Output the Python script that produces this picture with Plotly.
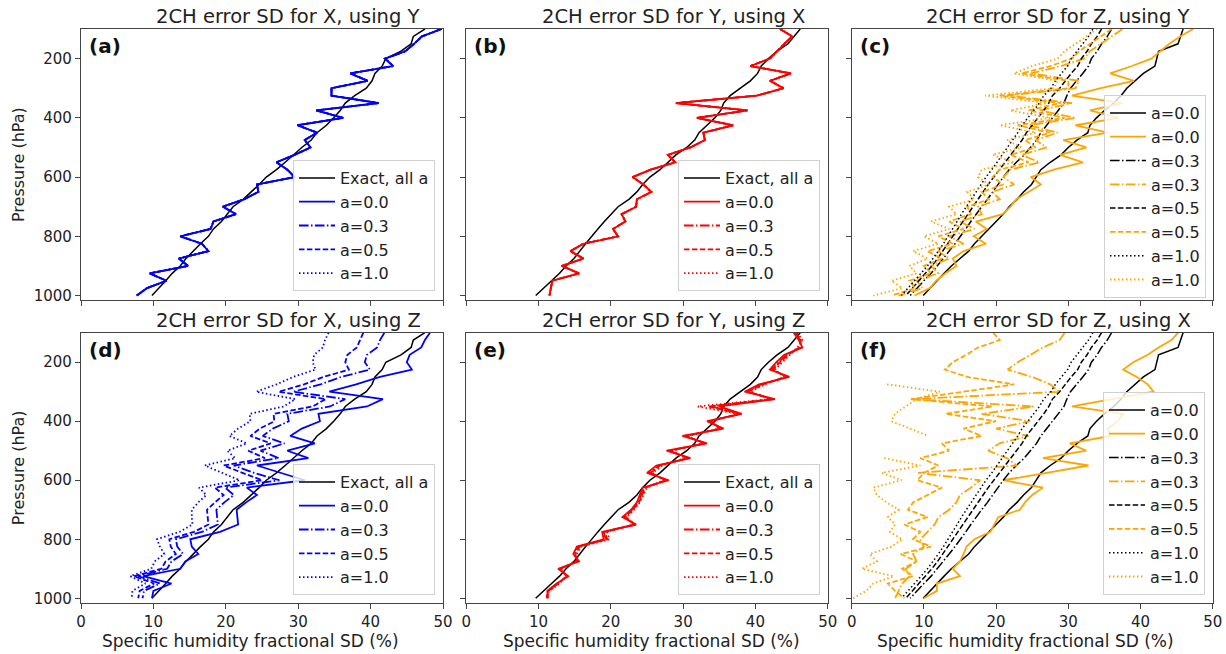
import plotly.graph_objects as go

# ---------------- data ----------------
P = list(range(100, 1001, 25))  # pressure levels, hPa

# (a) 2CH error SD for X, using Y
exact_X = [47.5, 45.9, 45.6, 44.2, 42.1, 41.6, 40.6, 40.2, 39.4, 37.8, 36.5, 35.8, 34.9, 33.9, 32.6, 31.8, 30.5, 29.4, 28.2,
           27.0, 25.6, 24.6, 23.5, 22.4, 21.0, 20.2, 19.4, 18.3, 17.6, 16.5, 15.5, 14.5, 13.7, 12.6, 11.7, 10.7, 9.8]
a_a00 = [49.8, 47.1, 46.0, 44.8, 42.0, 43.1, 37.2, 39.6, 34.6, 34.6, 41.1, 32.5, 36.2, 29.9, 32.6, 30.9, 31.7, 29.5, 27.0,
         28.5, 29.5, 24.3, 24.5, 22.5, 19.6, 21.4, 18.3, 17.9, 13.7, 16.7, 17.6, 13.5, 14.8, 9.5, 11.8, 9.1, 7.7]
# the a=0.3/0.5/1.0 curves lie exactly on the a=0.0 curve in the reference
a_a03 = a_a00
a_a05 = a_a00
a_a10 = a_a00

# (b) 2CH error SD for Y, using X
exact_Y = [46.2, 45.3, 44.5, 43.0, 41.8, 40.8, 40.3, 39.3, 37.9, 36.5, 35.6, 35.2, 34.4, 33.3, 32.2, 31.6, 30.5, 29.0, 27.9,
           26.8, 25.4, 24.4, 23.6, 22.5, 21.0, 20.0, 19.1, 18.2, 17.3, 16.5, 15.7, 14.9, 13.8, 12.9, 11.8, 10.7, 9.6]
b_a00 = [43.4, 45.1, 44.0, 43.0, 42.0, 39.3, 44.9, 42.0, 43.9, 40.2, 29.0, 38.9, 31.9, 36.9, 32.8, 33.0, 31.0, 27.9, 28.9,
         25.5, 23.0, 24.5, 25.6, 23.6, 23.5, 21.5, 22.0, 20.3, 21.0, 16.2, 14.4, 16.2, 13.2, 15.6, 11.9, 11.7, 11.5]
b_a03 = b_a00
b_a05 = b_a00
b_a10 = b_a00

# (c) / (f) exact curves for Z (black), one per a
exact_Z_a00 = [45.9, 45.5, 45.2, 42.5, 42.3, 42.0, 40.4, 39.2, 38.1, 37.3, 36.3, 35.0, 33.9, 33.0, 32.7, 31.2, 30.0, 29.0, 27.5,
               26.2, 25.6, 24.9, 23.8, 22.9, 21.8, 21.0, 20.0, 19.0, 17.9, 17.0, 16.2, 15.0, 13.8, 12.8, 11.8, 10.8, 9.9]
exact_Z_a03 = [36.0, 35.4, 34.6, 34.0, 33.2, 32.8, 32.0, 31.2, 30.3, 29.8, 29.4, 28.6, 27.8, 27.0, 26.2, 25.6, 24.8, 23.9, 22.8,
               21.8, 21.0, 20.3, 19.6, 18.8, 18.0, 17.2, 16.5, 15.8, 15.1, 14.3, 13.5, 12.7, 11.9, 11.0, 10.0, 9.1, 8.1]
exact_Z_a05 = [34.6, 34.0, 33.2, 32.6, 31.8, 31.3, 30.4, 29.6, 28.8, 27.8, 27.3, 26.6, 25.8, 25.0, 24.2, 23.6, 22.8, 22.0, 21.2,
               20.4, 19.6, 18.9, 18.2, 17.5, 16.8, 16.1, 15.4, 14.8, 14.1, 13.4, 12.7, 11.9, 11.1, 10.2, 9.3, 8.4, 7.5]
exact_Z_a10 = [33.4, 32.8, 32.0, 31.2, 30.4, 29.9, 29.0, 28.2, 27.6, 26.6, 26.0, 25.2, 24.4, 23.6, 23.0, 22.3, 21.5, 20.8, 20.2,
               19.4, 18.6, 17.9, 17.2, 16.6, 15.9, 15.2, 14.6, 14.0, 13.4, 12.7, 12.0, 11.3, 10.5, 9.6, 8.7, 7.8, 6.9]

# (c) 2CH error SD for Z, using Y (orange)
c_a00 = [47.3, 45.5, 44.0, 42.7, 41.5, 38.8, 35.8, 39.1, 34.5, 30.5, 37.5, 33.0, 37.0, 31.0, 35.5, 29.3, 32.5, 28.9, 32.0,
         28.0, 24.8, 26.2, 24.5, 22.8, 22.0, 20.9, 17.2, 18.7, 16.9, 18.6, 15.5, 14.0, 14.5, 13.0, 11.7, 10.8, 8.7]
c_a03 = [37.5, 36.0, 34.5, 33.0, 32.2, 29.0, 24.8, 31.5, 31.0, 21.6, 30.5, 26.0, 31.0, 24.5, 28.5, 25.5, 27.0, 23.5, 26.0,
         22.0, 21.0, 22.5, 19.5, 20.5, 17.5, 18.0, 15.0, 17.0, 13.5, 15.5, 12.0, 13.5, 11.0, 12.0, 9.0, 9.8, 6.5]
c_a05 = [36.0, 34.5, 33.0, 31.5, 30.5, 27.5, 23.5, 30.0, 30.0, 20.5, 29.0, 24.5, 29.5, 23.0, 27.5, 24.0, 25.5, 22.0, 24.5,
         20.5, 19.5, 21.0, 18.0, 19.0, 16.0, 16.5, 13.5, 15.5, 12.0, 14.0, 10.5, 12.5, 10.0, 11.0, 8.0, 8.8, 5.5]
c_a10 = [34.0, 32.5, 31.0, 29.5, 28.5, 25.0, 22.5, 28.5, 28.0, 18.5, 27.0, 22.0, 27.5, 20.5, 25.5, 21.5, 23.5, 19.5, 22.5,
         18.0, 17.5, 19.0, 16.0, 17.0, 13.5, 14.5, 11.0, 13.5, 10.0, 12.0, 8.5, 10.5, 8.0, 9.0, 5.5, 7.0, 3.0]

# (d) 2CH error SD for X, using Z
d_a00 = [48.2, 47.5, 47.0, 45.4, 45.0, 45.7, 41.3, 38.0, 34.3, 41.7, 39.5, 32.8, 33.0, 30.5, 28.9, 32.3, 28.5, 31.4, 24.3,
         27.5, 30.9, 22.9, 24.3, 22.8, 21.5, 21.6, 21.7, 19.2, 15.1, 15.3, 16.2, 14.4, 13.7, 8.6, 12.5, 10.0, 9.8]
d_a03 = [41.9, 41.3, 40.9, 39.5, 39.2, 39.9, 35.9, 33.1, 29.3, 36.5, 34.4, 28.5, 28.7, 26.5, 25.1, 28.1, 24.8, 27.3, 21.1,
         23.9, 27.4, 19.9, 21.1, 19.8, 18.7, 18.8, 18.9, 16.7, 13.1, 13.3, 14.1, 12.5, 11.9, 7.9, 10.9, 8.7, 8.5]
d_a05 = [39.0, 38.5, 38.1, 36.8, 36.5, 37.0, 33.5, 30.8, 27.3, 33.8, 32.0, 26.6, 26.7, 24.7, 23.4, 26.2, 23.1, 25.4, 19.7,
         22.3, 25.0, 18.5, 19.7, 18.5, 17.4, 17.5, 17.6, 15.6, 12.2, 12.4, 13.1, 11.7, 11.1, 7.3, 10.1, 8.1, 7.9]
d_a10 = [34.2, 33.7, 33.4, 32.2, 32.0, 32.4, 29.3, 27.0, 24.2, 29.6, 28.0, 23.3, 23.4, 21.7, 20.5, 22.9, 20.2, 21.3, 17.1,
         19.5, 21.9, 16.3, 17.3, 16.2, 15.3, 15.3, 15.4, 13.6, 10.5, 10.9, 11.5, 10.2, 9.7, 6.8, 8.9, 7.1, 7.0]

# (e) 2CH error SD for Y, using Z
e_a00 = [45.3, 46.0, 46.5, 44.0, 42.9, 42.0, 44.7, 40.5, 38.5, 42.7, 35.0, 38.1, 33.3, 35.6, 29.9, 33.3, 27.7, 31.0, 26.3,
         25.0, 28.0, 24.4, 24.0, 23.6, 22.8, 21.6, 23.5, 18.8, 19.0, 15.3, 14.8, 15.6, 12.7, 14.1, 12.5, 11.2, 11.3]
e_a03 = [45.5, 46.2, 46.3, 44.3, 43.2, 42.2, 44.5, 40.8, 38.8, 42.5, 34.0, 38.0, 33.5, 35.4, 30.2, 33.1, 28.0, 30.8, 26.6,
         25.3, 27.8, 24.6, 24.2, 23.8, 22.9, 21.8, 23.4, 19.0, 19.3, 15.5, 15.0, 15.4, 12.9, 14.0, 12.6, 11.3, 11.2]
e_a05 = [45.6, 46.3, 46.1, 44.5, 43.4, 42.4, 44.3, 41.0, 39.0, 42.3, 33.5, 37.9, 33.7, 35.2, 30.4, 33.0, 28.2, 30.6, 26.8,
         25.5, 27.6, 24.8, 24.3, 23.9, 23.0, 22.0, 23.3, 19.2, 19.5, 15.7, 15.1, 15.3, 13.0, 13.9, 12.7, 11.4, 11.1]
e_a10 = [45.8, 46.5, 45.8, 44.8, 43.7, 42.7, 44.0, 41.3, 39.3, 42.0, 32.0, 37.6, 34.0, 34.9, 30.7, 32.7, 28.5, 30.3, 27.1,
         25.8, 27.3, 25.0, 24.5, 24.0, 23.2, 22.2, 23.1, 19.5, 19.8, 15.9, 15.3, 15.1, 13.2, 13.8, 12.9, 11.5, 11.0]

# (f) 2CH error SD for Z, using X (orange)
f_a00 = [45.2, 44.3, 42.5, 41.0, 39.0, 37.6, 39.5, 41.0, 41.8, 36.0, 30.5, 37.6, 36.8, 35.5, 35.8, 30.2, 32.5, 26.5, 32.8,
         27.0, 21.0, 26.5, 25.0, 24.0, 23.3, 20.3, 19.8, 19.2, 17.0, 15.9, 15.5, 15.0, 14.0, 15.0, 11.8, 11.8, 10.0]
f_a03 = [29.5, 28.8, 26.5, 24.8, 23.0, 21.6, 25.0, 27.5, 28.8, 8.5, 25.2, 18.0, 24.7, 20.0, 24.5, 20.5, 18.9, 21.5, 22.9,
         9.2, 17.8, 16.5, 15.0, 14.5, 13.5, 12.0, 11.5, 10.5, 9.5, 10.0, 8.5, 9.0, 7.5, 8.0, 7.0, 6.5, 6.0]
f_a05 = [19.6, 20.5, 17.5, 15.9, 14.0, 12.9, 16.0, 22.5, 15.5, 8.2, 19.5, 13.0, 20.0, 15.5, 18.0, 12.5, 13.5, 9.5, 12.0,
         10.0, 9.1, 12.5, 10.5, 8.5, 7.8, 10.5, 7.3, 9.5, 8.5, 11.0, 6.8, 9.0, 7.0, 8.5, 5.0, 6.0, 7.3]
f_a10 = [None, None, None, None, None, None, None, 4.9, 12.2, 9.0, 7.5, 6.0, 5.5, 8.0, 10.6, None, None, 4.5, 9.5,
         4.2, 6.9, 3.0, 3.5, 4.8, 6.5, 5.0, 6.0, 5.3, 7.0, 5.5, 2.5, 3.5, 1.4, 5.8, 3.0, 2.0, 0.2]

titles = ["2CH error SD for X, using Y", "2CH error SD for Y, using X", "2CH error SD for Z, using Y",
          "2CH error SD for X, using Z", "2CH error SD for Y, using Z", "2CH error SD for Z, using X"]
letters = ["(a)", "(b)", "(c)", "(d)", "(e)", "(f)"]
a_labels = ["a=0.0", "a=0.3", "a=0.5", "a=1.0"]
x_ticks = [0, 10, 20, 30, 40, 50]
y_ticks = [200, 400, 600, 800, 1000]

# ---------------- styling ----------------
FONT = "DejaVu Sans"
BLUE, RED, ORANGE, BLACK = "#0000ff", "#ff0000", "#ffa500", "#000000"
DASH = {"a=0.0": "solid", "a=0.3": "9.6px,2.4px,1.5px,2.4px", "a=0.5": "5.5px,2.4px", "a=1.0": "1.5px,2.5px"}

W, H = 1226, 654
cols_px = [(81, 443), (466.3, 827.7), (851.7, 1212.7)]   # pixel positions of panels
rows_px = [(29, 300), (332.7, 602.7)]
legend_br = [(435, 291), (820, 291), (1206, 298), (435, 595), (820, 595), (1205, 595)]
xlabel_cx = [250, 652, 1025]


def fx(px):
    return px / W


def fy(py):
    return 1 - py / H


fig = go.Figure()


def add(panel, y_vals, name, color, dash, width=1.8):
    n = "" if panel == 1 else str(panel)
    fig.add_trace(go.Scatter(
        x=y_vals, y=P, mode="lines", name=name,
        line=dict(color=color, dash=dash, width=width),
        xaxis=f"x{n}", yaxis=f"y{n}", legend=f"legend{n}",
        showlegend=True, connectgaps=False, hoverinfo="skip"))


simple = [
    (1, exact_X, [a_a00, a_a03, a_a05, a_a10], BLUE),
    (2, exact_Y, [b_a00, b_a03, b_a05, b_a10], RED),
    (4, exact_X, [d_a00, d_a03, d_a05, d_a10], BLUE),
    (5, exact_Y, [e_a00, e_a03, e_a05, e_a10], RED),
]
for panel, ex, series, col in simple:
    add(panel, ex, "Exact, all a", BLACK, "solid", 1.5)
    for lab, s in zip(a_labels, series):
        add(panel, s, lab, col, DASH[lab])

exact_Z = [exact_Z_a00, exact_Z_a03, exact_Z_a05, exact_Z_a10]
for panel, series in [(3, [c_a00, c_a03, c_a05, c_a10]), (6, [f_a00, f_a03, f_a05, f_a10])]:
    for lab, ex, s in zip(a_labels, exact_Z, series):
        add(panel, ex, lab, BLACK, DASH[lab], 1.5)
        add(panel, s, lab, ORANGE, DASH[lab])

layout = dict(
    width=W, height=H, margin=dict(l=0, r=0, t=0, b=0, autoexpand=False),
    paper_bgcolor="white", plot_bgcolor="white",
    font=dict(family=FONT, size=15, color="#222222"),
    hovermode=False,
)
annotations = []
for i in range(6):
    r, c = divmod(i, 3)
    n = "" if i == 0 else str(i + 1)
    x0, x1 = cols_px[c]
    y0, y1 = rows_px[r]
    axis_common = dict(showline=True, mirror=True, linecolor="#444444", linewidth=1.2,
                       ticks="outside", ticklen=5, tickwidth=1.2, tickcolor="#444444",
                       showgrid=False, zeroline=False, tickfont=dict(size=15, family=FONT, color="#222222"))
    layout[f"xaxis{n}"] = dict(domain=[fx(x0), fx(x1)], range=[0, 50], anchor=f"y{n}",
                               tickvals=x_ticks, showticklabels=(r == 1), **axis_common)
    layout[f"yaxis{n}"] = dict(domain=[fy(y1), fy(y0)], range=[1015, 100], anchor=f"x{n}",
                               tickvals=y_ticks, showticklabels=(c == 0), **axis_common)
    lx, ly = legend_br[i]
    layout[f"legend{n}"] = dict(x=fx(lx), y=fy(ly), xanchor="right", yanchor="bottom",
                                bgcolor="rgba(255,255,255,0.8)", bordercolor="#d0d0d0", borderwidth=1,
                                font=dict(size=16, family=FONT, color="#222222"),
                                tracegroupgap=0, itemwidth=36)
    annotations.append(dict(text=titles[i], x=fx((x0 + x1) / 2 + 26), y=fy(y0 - 12.5),
                            xref="paper", yref="paper", xanchor="center", yanchor="middle",
                            showarrow=False, font=dict(size=19.5, family=FONT, color="#222222")))
    annotations.append(dict(text=f"<b>{letters[i]}</b>", x=fx(x0 + 6), y=fy(y0 + 17),
                            xref="paper", yref="paper", xanchor="left", yanchor="middle",
                            showarrow=False, font=dict(size=20, family=FONT, color="#111111")))
    if c == 0:
        annotations.append(dict(text="Pressure (hPa)", x=fx(18.5), y=fy((y0 + y1) / 2),
                                xref="paper", yref="paper", xanchor="center", yanchor="middle",
                                textangle=-90, showarrow=False,
                                font=dict(size=16, family=FONT, color="#222222")))
    if r == 1:
        annotations.append(dict(text="Specific humidity fractional SD (%)", x=fx(xlabel_cx[c]),
                                y=fy(641), xref="paper", yref="paper", xanchor="center",
                                yanchor="middle", showarrow=False,
                                font=dict(size=17, family=FONT, color="#222222")))
layout["annotations"] = annotations
fig.update_layout(**layout)
# remove the browser's default 8px body margin so the figure fills the 1226x654 window exactly
fig.write_html("out.html", config={"displayModeBar": False},
               post_script="document.body.style.margin='0px';")
